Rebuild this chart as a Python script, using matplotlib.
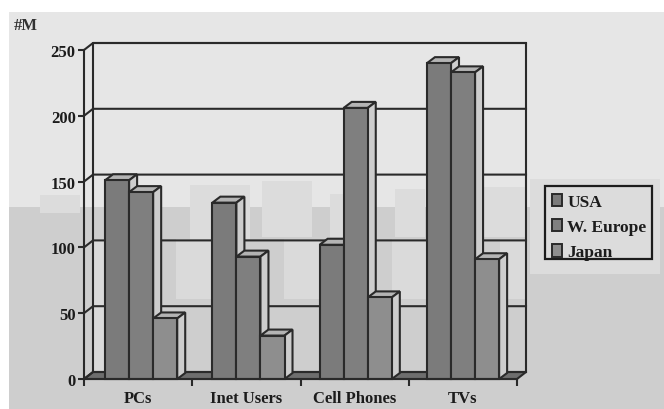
import matplotlib
matplotlib.use("Agg")
import matplotlib.pyplot as plt
from matplotlib.patches import Polygon, Rectangle

plt.rcParams['font.family'] = ['Liberation Serif', 'DejaVu Serif']
plt.rcParams['font.weight'] = 'bold'

categories = ["PCs", "Inet Users", "Cell Phones", "TVs"]
usa = [151, 134, 102, 240]
europe = [142, 93, 206, 233]
japan = [46, 33, 62, 91]
series = [("USA", usa, "#7b7b7b"), ("W. Europe", europe, "#7f7f7f"), ("Japan", japan, "#8e8e8e")]
yticks = [0, 50, 100, 150, 200, 250]

W, H = 664, 410
fig = plt.figure(figsize=(W / 100, H / 100), dpi=100, facecolor="white")

def frect(x0, y0, x1, y1, color, z=-10, edge="none", lw=0):
    fig.add_artist(Rectangle((x0 / W, 1 - y1 / H), (x1 - x0) / W, (y1 - y0) / H,
                             transform=fig.transFigure, facecolor=color, edgecolor=edge,
                             linewidth=lw, zorder=z))
frect(9, 13, W, 208, "#e6e6e6")
frect(9, 208, W, H, "#cecece")
# faint skyline of the backdrop
for x0, y0, x1, y1 in [(40, 196, 80, 214), (190, 186, 250, 240), (262, 182, 312, 238), (330, 195, 370, 238),
                       (395, 190, 425, 238), (480, 188, 525, 238), (530, 180, 660, 275)]:
    frect(x0, y0, x1, y1, "#dcdcdc", -9)
for x0, y0, x1, y1 in [(176, 240, 212, 300), (284, 240, 320, 300), (392, 240, 427, 300), (500, 240, 526, 300),
                       (93, 240, 105, 372)]:
    frect(x0, y0, x1, y1, "#dadada", -9)

L, R, T, B = 84, 517, 51, 380
ax = fig.add_axes([L / W, 1 - B / H, (R - L) / W, (B - T) / H])
ax.patch.set_visible(False)
ax.set_xlim(0, 4)
ax.set_ylim(0, 250)
ux = 4 / (R - L)      # data units per pixel
uy = 250 / (B - T)
line = "#2a2a2a"
lw = 1.5

# walls and floor depth
wdx, wdy = 9 * ux, 7 * uy
ax.add_patch(Polygon([(0, 0), (wdx, wdy), (4 + wdx, wdy), (4, 0)], closed=True, facecolor="#6e6e6e",
                     edgecolor=line, linewidth=lw, zorder=1, clip_on=False))
ax.plot([wdx, wdx, 4 + wdx, 4 + wdx], [wdy, 250 + wdy, 250 + wdy, wdy], color=line, lw=lw, zorder=1, clip_on=False)
for v in yticks:
    ax.plot([0, wdx, 4 + wdx], [v, v + wdy, v + wdy], color=line, lw=lw, zorder=1, clip_on=False)
ax.plot([0, 0], [0, 250], color=line, lw=lw, zorder=1.5, clip_on=False)

# bars
bw = 24 / 108
off = 3 / 108
step = 107.3 / 108.25
bdx, bdy = 8 * ux, 6 * uy
for j, (name, vals, col) in enumerate(series):
    xs = [i * step + 0.5 + off + (j - 1) * bw for i in range(len(vals))]
    z = 3 + j
    ax.bar(xs, vals, width=bw, color=col, edgecolor=line, linewidth=lw, zorder=z + 0.5, clip_on=False)
    for x, v in zip(xs, vals):
        x1, x2 = x - bw / 2, x + bw / 2
        ax.add_patch(Polygon([(x1, v), (x1 + bdx, v + bdy), (x2 + bdx, v + bdy), (x2, v)], closed=True,
                             facecolor="#b4b4b4", edgecolor=line, linewidth=lw, zorder=z, clip_on=False))
        ax.add_patch(Polygon([(x2, 0), (x2 + bdx, bdy), (x2 + bdx, v + bdy), (x2, v)], closed=True,
                             facecolor="#cdcdcd", edgecolor=line, linewidth=lw, zorder=z, clip_on=False))

for s in ax.spines.values():
    s.set_visible(False)
ax.set_yticks(yticks)
ax.tick_params(axis="y", length=4, width=1.5, color=line, pad=2, labelsize=12, labelcolor="#1c1c1c")
ax.set_xticks(range(5))
ax.set_xticklabels([])
ax.set_xticks([i + 0.5 for i in range(4)], categories, minor=True)
ax.tick_params(axis="x", which="major", length=5, width=1.5, color=line)
ax.tick_params(axis="x", which="minor", length=0, pad=8, labelsize=12, labelcolor="#1c1c1c")
ax.plot([0, 4], [0, 0], color=line, lw=lw, zorder=9, clip_on=False)

fig.text(14 / W, 1 - 26 / H, "#M", fontsize=12, color="#333333", va="center", ha="left")

frect(545, 187, 652, 260, "#dcdcdc", -5, "#1c1c1c", 1.6)
handles = [Rectangle((0, 0), 1, 1, facecolor=c, edgecolor=line, linewidth=1.4) for _, _, c in series]
leg = fig.legend(handles, [s[0] for s in series], loc="lower left",
                 bbox_to_anchor=(545 / W, 1 - 268.5 / H), bbox_transform=fig.transFigure,
                 frameon=False, fontsize=12.5, handlelength=0.55, handleheight=0.75, handletextpad=0.3,
                 labelspacing=0.5, borderpad=0.42, borderaxespad=0)
for t in leg.get_texts():
    t.set_color("#1c1c1c")

fig.savefig("out.png", dpi=100)
